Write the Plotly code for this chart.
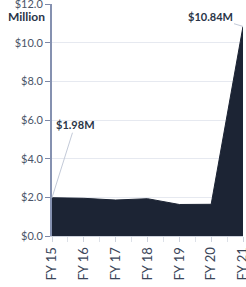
import plotly.graph_objects as go

years = ["FY 15", "FY 16", "FY 17", "FY 18", "FY 19", "FY 20", "FY 21"]
values = [1.98, 1.95, 1.86, 1.93, 1.63, 1.64, 10.84]
y_ticks = [0, 2, 4, 6, 8, 10, 12]

xs = list(range(len(years)))

fig = go.Figure()
fig.add_trace(go.Scatter(
    x=xs, y=values, mode="lines", fill="tozeroy",
    line=dict(color="#1c2434", width=1),
    fillcolor="#1c2434", hoverinfo="skip", showlegend=False,
))

fig.add_annotation(x=0, y=values[0], text="<b>$1.98M</b>", showarrow=True,
                   arrowhead=0, arrowwidth=1, arrowcolor="#c3cad8",
                   ax=23, ay=-73, font=dict(family="Lato", size=11, color="#2a3548"),
                   xanchor="center", yanchor="middle")
fig.add_annotation(x=6, y=values[6], text="<b>$10.84M</b>", showarrow=True,
                   arrowhead=0, arrowwidth=1, arrowcolor="#c3cad8",
                   ax=-33, ay=-10, font=dict(family="Lato", size=11, color="#2a3548"),
                   xanchor="center", yanchor="middle")
fig.add_annotation(xref="paper", yref="paper", x=-0.025, y=0.944, text="<b>Million</b>",
                   showarrow=False, xanchor="right", yanchor="middle",
                   font=dict(family="Lato", size=12, color="#2a3548"))

fig.update_layout(
    width=246, height=287,
    margin=dict(l=52, r=3, t=4, b=51, autoexpand=False),
    paper_bgcolor="white", plot_bgcolor="white",
    xaxis=dict(
        range=[0, 6], tickmode="array", tickvals=xs, ticktext=years,
        tickangle=-90, ticks="outside", ticklen=5, tickcolor="#cdd2dc",
        tickfont=dict(family="Lato", size=13, color="#3a4558"),
        showgrid=False, showline=True, linecolor="#cdd2dc", linewidth=1,
        minor=dict(dtick=0.5, tick0=0, ticks="outside", ticklen=5, tickcolor="#dde1e8"),
        zeroline=False, fixedrange=True, automargin=False,
        ticklabeloverflow="allow",
    ),
    yaxis=dict(
        range=[0, 12], tickmode="array", tickvals=y_ticks,
        ticktext=[f"${v:.1f}" for v in y_ticks],
        ticks="outside", ticklen=5, tickcolor="#7d88a6",
        tickfont=dict(family="Lato", size=11, color="#4a5468"),
        showgrid=True, gridcolor="#e6e9f0", gridwidth=1,
        showline=True, linecolor="#8591b0", linewidth=2,
        zeroline=False, fixedrange=True, automargin=False,
        ticklabeloverflow="allow",
    ),
)

fig.write_html("out.html", config={"displayModeBar": False},
               post_script="document.body.style.margin='0';document.body.style.padding='0';")
